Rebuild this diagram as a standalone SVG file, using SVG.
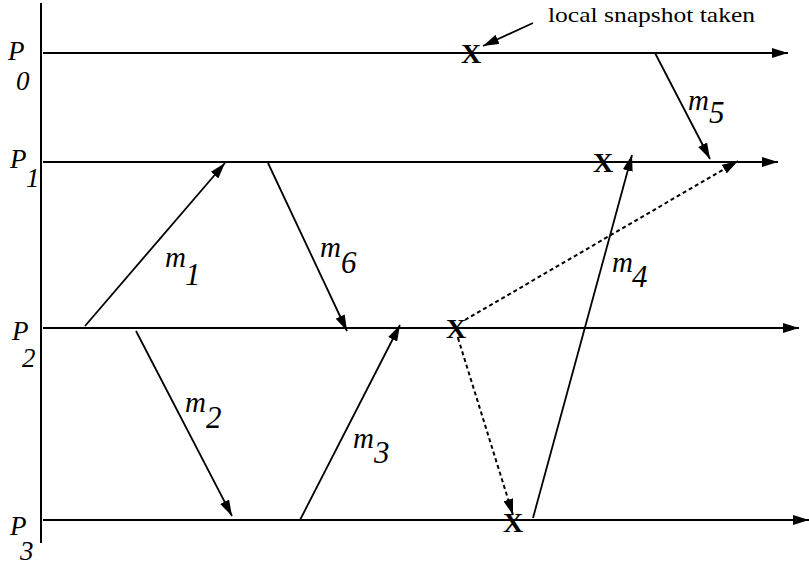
<svg xmlns="http://www.w3.org/2000/svg" width="809" height="566" viewBox="0 0 809 566">
<defs>
<marker id="ah" markerUnits="userSpaceOnUse" markerWidth="16" markerHeight="10" refX="16" refY="5" orient="auto">
<path d="M0,0 L16,5 L0,10 Z" fill="#000"/>
</marker>
<style>
.ln{stroke:#000;stroke-width:2;fill:none}
.msg{stroke:#000;stroke-width:1.8;fill:none}
.dash{stroke:#000;stroke-width:2;fill:none;stroke-dasharray:4 3}
text{font-family:"Liberation Serif","Times New Roman",Times,serif;fill:#000}
.lab{font-style:italic}
.m{font-size:29px}
.d{font-size:31px}
.p{font-size:27px}
.x{font-weight:bold;font-size:28px;text-anchor:middle}
.note{font-size:22px}
</style>
</defs>
<rect width="809" height="566" fill="#fff"/>
<g id="axis"><line class="ln" x1="41" y1="3" x2="41" y2="543"/></g>
<g id="P0">
<line class="ln" x1="43" y1="53" x2="788" y2="53" marker-end="url(#ah)"/>
<text class="lab p" x="8" y="60">P</text><text class="lab p" x="16" y="90">0</text>
<text class="x" x="471" y="63">X</text>
</g>
<g id="P1">
<line class="ln" x1="43" y1="162" x2="778" y2="162" marker-end="url(#ah)"/>
<text class="lab p" x="10" y="168">P</text><text class="lab p" x="26" y="187">1</text>
<text class="x" x="603" y="172">X</text>
</g>
<g id="P2">
<line class="ln" x1="43" y1="328" x2="799" y2="328" marker-end="url(#ah)"/>
<text class="lab p" x="12" y="340">P</text><text class="lab p" x="22" y="367">2</text>
<text class="x" x="456" y="338">X</text>
</g>
<g id="P3">
<line class="ln" x1="43" y1="520" x2="809" y2="520" marker-end="url(#ah)"/>
<text class="lab p" x="10" y="535">P</text><text class="lab p" x="20" y="560">3</text>
<text class="x" x="513" y="532">X</text>
</g>
<g id="note">
<text class="note" x="548" y="22" textLength="207" lengthAdjust="spacingAndGlyphs">local snapshot taken</text>
</g>
<g id="connectors">
<line class="msg" x1="533" y1="23" x2="483" y2="46" marker-end="url(#ah)"/>
<line class="msg" x1="85" y1="326" x2="225" y2="163" marker-end="url(#ah)"/>
<line class="msg" x1="268" y1="163" x2="347" y2="331" marker-end="url(#ah)"/>
<line class="msg" x1="136" y1="331" x2="232" y2="516" marker-end="url(#ah)"/>
<line class="msg" x1="300" y1="520" x2="400" y2="325" marker-end="url(#ah)"/>
<line class="msg" x1="533" y1="518" x2="632" y2="155" marker-end="url(#ah)"/>
<line class="msg" x1="655" y1="53" x2="710" y2="159" marker-end="url(#ah)"/>
<line class="dash" x1="465" y1="320" x2="738" y2="161" marker-end="url(#ah)"/>
<line class="dash" x1="458" y1="338" x2="513" y2="515" marker-end="url(#ah)"/>
</g>
<g id="labels">
<text class="lab m" x="165" y="267">m</text><text class="lab d" x="185" y="285">1</text>
<text class="lab m" x="320" y="257">m</text><text class="lab d" x="341" y="273">6</text>
<text class="lab m" x="688" y="110">m</text><text class="lab d" x="709" y="123">5</text>
<text class="lab m" x="185" y="412">m</text><text class="lab d" x="206" y="428">2</text>
<text class="lab m" x="353" y="448">m</text><text class="lab d" x="374" y="463">3</text>
<text class="lab m" x="612" y="272">m</text><text class="lab d" x="632" y="287">4</text>
</g>
</svg>
